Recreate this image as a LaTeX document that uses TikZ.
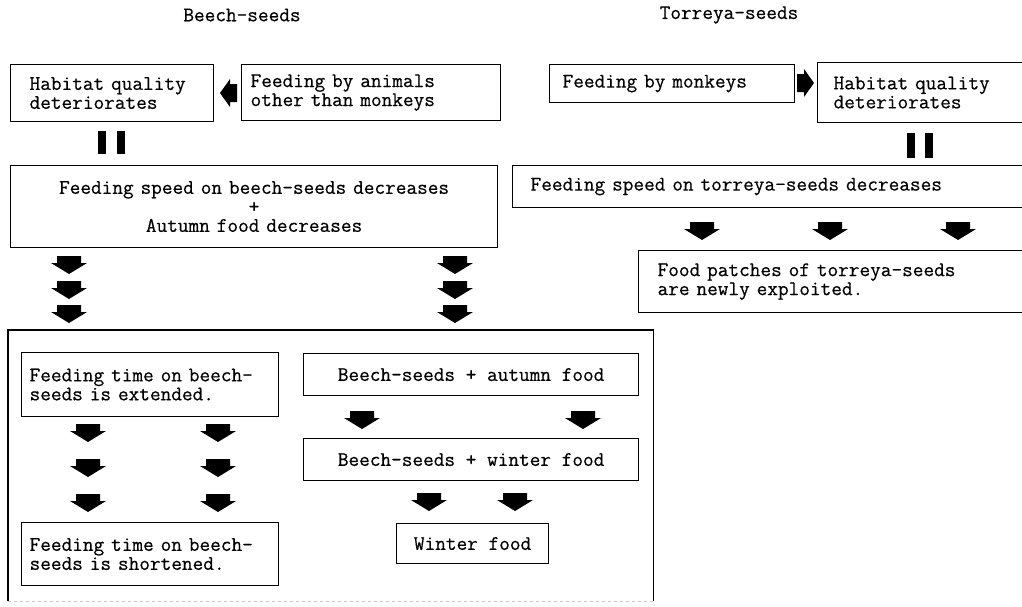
\documentclass[tikz,border=0pt]{standalone}
\usepackage{fontspec}
\setmonofont{Latin Modern Mono}[FakeBold=0.5]

\begin{document}
\begin{tikzpicture}[x=1pt, y=-1pt, font=\ttfamily\fontsize{20.7}{19}\selectfont,
    box/.style={draw, line width=1.2pt, anchor=north west, inner ysep=2pt},
    bar/.style={fill=black, minimum width=8pt, minimum height=23pt, inner sep=0pt},
    blockdown/.pic={\fill (-12,-9) -- (12,-9) -- (12,-2) -- (18,-2) -- (0,9) -- (-18,-2) -- (-12,-2) -- cycle;},
    blockleft/.pic={\fill (9,-9) -- (9,9) -- (2,9) -- (2,14) -- (-8,0) -- (2,-14) -- (2,-9) -- cycle;},
    blockright/.pic={\fill (-9,-9) -- (-9,9) -- (-2,9) -- (-2,14) -- (8,0) -- (-2,-14) -- (-2,-9) -- cycle;}]
    \useasboundingbox (0,0) rectangle (1022,606);

    \node (beech) at (242,15) {Beech-seeds};
    \node (torreya) at (729,15) {Torreya-seeds};

    % beech-seeds, top
    \node[box, text width=165pt, inner xsep=19pt, align=left, minimum height=57pt] (habB) at (10,64) {Habitat quality\\deteriorates};
    \node[box, text width=241pt, inner xsep=9pt, align=left, minimum height=56pt] (others) at (241,64) {Feeding by animals\\other than monkeys};
    \pic (aOthers) at (228,93) {blockleft};
    \node[bar] (barB1) at (102,142) {};
    \node[bar] (barB2) at (121,142) {};
    \node[box, text width=467pt, inner xsep=10pt, align=center, minimum height=82pt] (speedB) at (10,165) {Feeding speed on beech-seeds decreases\\+\\Autumn food decreases};

    \pic (aL1) at (69,265) {blockdown};
    \pic (aL2) at (69,290) {blockdown};
    \pic (aL3) at (69,314) {blockdown};
    \pic (aR1) at (455,265) {blockdown};
    \pic (aR2) at (455,290) {blockdown};
    \pic (aR3) at (455,314) {blockdown};

    % beech-seeds, inside the large frame
    \node[draw=none, anchor=north west, minimum width=645pt, minimum height=271pt] (big) at (8,330) {};
    \draw[line width=1.2pt] (big.south west) -- (big.north west) -- (big.north east) -- (big.south east);
    \draw[gray!45, dashed, line width=1.2pt] (big.south west) -- (big.south east);

    \node[box, text width=241pt, inner xsep=8pt, align=left, minimum height=64pt] (extended) at (21,352) {Feeding time on beech-\\seeds is extended.};
    \pic (aE1) at (88,433) {blockdown};
    \pic (aE2) at (88,468) {blockdown};
    \pic (aE3) at (88,503) {blockdown};
    \pic (aF1) at (218,433) {blockdown};
    \pic (aF2) at (218,468) {blockdown};
    \pic (aF3) at (218,503) {blockdown};
    \node[box, text width=241pt, inner xsep=8pt, align=left, minimum height=63pt] (shortened) at (21,522) {Feeding time on beech-\\seeds is shortened.};

    \node[box, minimum width=335pt, minimum height=42pt] (autumn) at (303,353) {Beech-seeds + autumn food};
    \pic (aA1) at (362,420) {blockdown};
    \pic (aA2) at (583,420) {blockdown};
    \node[box, minimum width=335pt, minimum height=42pt] (winter) at (303,438) {Beech-seeds + winter food};
    \pic (aW1) at (429,502) {blockdown};
    \pic (aW2) at (515,502) {blockdown};
    \node[box, minimum width=152pt, minimum height=40pt] (wfood) at (396,523) {Winter food};

    % torreya-seeds
    \node[box, text width=219pt, inner xsep=13pt, align=left, minimum height=38pt] (monkeys) at (549,64) {Feeding by monkeys};
    \pic (aMonkeys) at (806,83) {blockright};
    \node[box, text width=181pt, inner xsep=16pt, align=left, minimum height=60pt] (habT) at (817,62) {Habitat quality\\deteriorates};
    \node[bar, minimum height=25pt] (barT1) at (911,145) {};
    \node[bar, minimum height=25pt] (barT2) at (929,145) {};
    \node[box, text width=482pt, inner xsep=18pt, align=left, minimum height=42pt] (speedT) at (512,165) {Feeding speed on torreya-seeds decreases};
    \pic (aT1) at (702,231) {blockdown};
    \pic (aT2) at (830,231) {blockdown};
    \pic (aT3) at (958,231) {blockdown};
    \node[box, text width=354pt, inner xsep=19pt, align=left, minimum height=62pt] (patches) at (638,250) {Food patches of torreya-seeds\\are newly exploited.};
\end{tikzpicture}
\end{document}
